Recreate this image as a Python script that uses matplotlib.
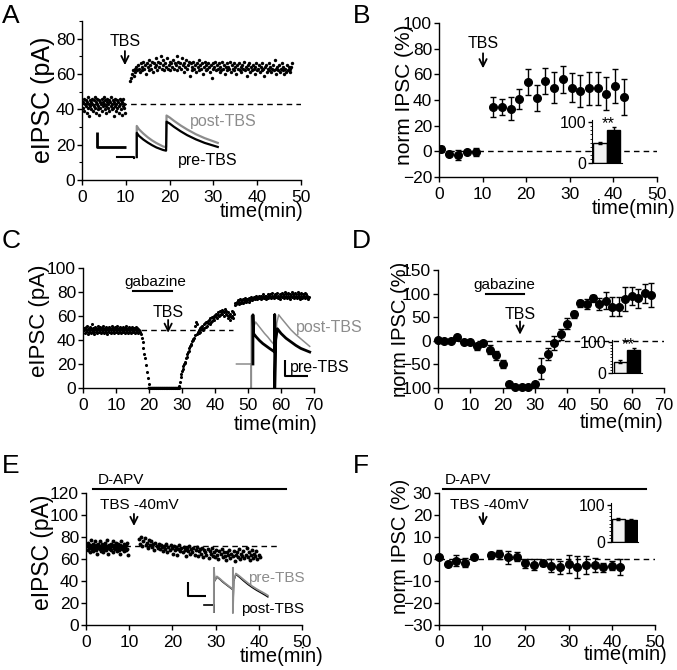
import numpy as np
import matplotlib
matplotlib.use('Agg')
import matplotlib.pyplot as plt

plt.rcParams['font.family'] = ['Liberation Sans', 'DejaVu Sans']

W, H = 677, 670

# ---------------- Panel A data ----------------
A_pre_t = np.linspace(0.2, 9.8, 80)
A_pre_v = [44, 41, 46, 39, 43, 45, 42, 38, 44, 47,
           41, 43, 36, 45, 42, 44, 40, 46, 43, 39,
           45, 42, 47, 41, 44, 38, 43, 46, 40, 42,
           45, 37, 44, 41, 43, 46, 39, 44, 42, 47,
           43, 40, 45, 42, 38, 44, 46, 41, 43, 45,
           39, 44, 42, 47, 40, 43, 45, 41, 36, 44,
           42, 46, 39, 43, 45, 41, 44, 38, 42, 46,
           43, 40, 45, 37, 44, 42, 46, 41, 43, 38]
A_post_t = np.linspace(11.0, 48.0, 186)
A_post_v = [56, 58, 60, 62, 59, 63, 61, 64, 62, 65,
            63, 61, 66, 64, 62, 67, 63, 65, 60, 66,
            64, 68, 62, 65, 63, 67, 61, 66, 64, 69,
            65, 62, 67, 64, 66, 70, 63, 65, 68, 62,
            66, 64, 69, 63, 65, 67, 62, 66, 64, 68,
            63, 66, 65, 70, 62, 67, 64, 66, 63, 69,
            65, 61, 66, 64, 68, 63, 65, 67, 59, 66,
            64, 62, 67, 63, 65, 61, 66, 64, 68, 62,
            65, 63, 66, 60, 64, 67, 62, 65, 63, 66,
            64, 61, 65, 58, 66, 63, 64, 67, 62, 65,
            63, 66, 61, 64, 62, 67, 63, 65, 60, 64,
            66, 62, 64, 63, 67, 61, 65, 63, 66, 62,
            64, 60, 65, 63, 66, 62, 64, 61, 65, 63,
            67, 62, 64, 59, 65, 63, 66, 61, 64, 62,
            65, 63, 60, 64, 66, 62, 63, 65, 61, 64,
            62, 66, 63, 59, 64, 65, 61, 63, 66, 62,
            64, 61, 63, 65, 62, 68, 63, 60, 64, 62,
            65, 61, 63, 66, 62, 64, 60, 63, 61, 65,
            62, 64, 63, 61, 64, 66]
A_baseline = 43
# example traces (inset of A, drawn in A's axes units)
A_tr_base_t = [8.0, 11.9, 11.9]
A_tr_base_y = [13.0, 13.0, 12.2]
A_tr_t = [12.5, 12.5, 13.0, 14.0, 15.0, 16.0, 17.0, 18.5, 19.2, 19.3, 20.0, 21.0, 22.5, 24.0, 26.0, 28.0, 31.0]
A_tr_pre = [13.0, 26.7, 25.0, 22.9, 21.2, 19.7, 18.4, 17.0, 16.6, 33.0, 32.0, 30.1, 27.6, 25.4, 23.0, 21.0, 18.7]
A_tr_post = [13.0, 30.6, 28.7, 26.3, 24.2, 22.4, 20.9, 19.0, 18.6, 36.5, 35.4, 33.5, 30.9, 28.6, 25.9, 23.7, 21.0]

# ---------------- Panel B data ----------------
B_t = [0.4, 2.4, 4.4, 6.4, 8.4, 12.4, 14.4, 16.4, 18.4, 20.4, 22.4, 24.4, 26.4,
       28.4, 30.4, 32.4, 34.4, 36.4, 38.4, 40.4, 42.4]
B_v = [1.8, -1.8, -3.1, -0.5, -0.5, 34.5, 34.5, 33.2, 40.8, 54.0, 41.8, 55.0, 49.6,
       56.0, 49.6, 47.3, 49.0, 49.0, 45.0, 51.0, 42.3]
B_e = [2.0, 2.0, 4.0, 1.0, 3.0, 7.8, 6.5, 9.0, 8.0, 10.0, 10.0, 10.0, 12.0,
       10.6, 11.4, 12.5, 13.0, 12.6, 13.0, 13.0, 13.7]
B_bar = [49.5, 81.7]
B_bar_e = [3.0, 6.0]

# ---------------- Panel C data ----------------
C_base_t = np.linspace(0.3, 17.0, 112)
C_base_v = [48, 50, 46, 49, 51, 47, 48, 52, 45, 49,
            50, 47, 48, 51, 46, 49, 48, 53, 47, 50,
            48, 45, 49, 51, 47, 50, 48, 46, 52, 49,
            47, 50, 48, 51, 46, 49, 50, 47, 48, 52,
            49, 46, 50, 48, 51, 47, 49, 45, 50, 48,
            51, 47, 49, 50, 46, 48, 52, 49, 47, 50,
            48, 46, 51, 49, 47, 50, 48, 52, 46, 49,
            50, 47, 48, 51, 49, 46, 50, 48, 47, 51,
            49, 48, 46, 50, 47, 52, 48, 49, 46, 50,
            48, 51, 47, 49, 50, 46, 48, 51, 47, 49,
            50, 48, 46, 49, 51, 47, 48, 50, 49, 46,
            48, 47]
C_drop_t = [17.3, 17.6, 17.9, 18.1, 18.3, 18.5, 18.7, 19.0, 19.3, 19.6, 19.9]
C_drop_v = [47, 45, 42, 38, 33, 28, 25, 19, 13, 8, 3]
C_zero_t = np.linspace(20.0, 29.0, 46)
C_zero_v = [0.0] * 46
C_rec_t = np.linspace(29.2, 45.8, 84)
C_rec_v = [2, 5, 9, 12, 14, 16, 18, 20, 22, 21,
           25, 26, 28, 30, 31, 33, 35, 36, 37, 39,
           40, 41, 42, 44, 52, 55, 45, 53, 47, 46,
           48, 50, 47, 51, 49, 52, 48, 53, 50, 54,
           51, 55, 52, 56, 54, 57, 53, 58, 55, 59,
           56, 58, 60, 57, 61, 59, 62, 58, 61, 63,
           60, 64, 61, 63, 65, 62, 64, 60, 63, 66,
           62, 64, 61, 58, 63, 60, 57, 62, 59, 64,
           60, 63, 58, 62]
C_late_t = np.linspace(46.0, 68.4, 113)
C_late_v = [69, 71, 70, 72, 71, 73, 70, 72, 74, 71,
            72, 73, 71, 74, 72, 73, 75, 72, 74, 73,
            74, 72, 75, 73, 74, 76, 73, 75, 74, 76,
            74, 75, 77, 74, 76, 75, 77, 75, 76, 74,
            77, 75, 76, 78, 75, 77, 76, 74, 77, 76,
            78, 75, 77, 76, 78, 75, 77, 79, 76, 77,
            75, 78, 76, 77, 79, 75, 77, 76, 78, 74,
            77, 79, 76, 78, 75, 77, 80, 76, 78, 75,
            77, 79, 76, 78, 74, 77, 80, 76, 78, 75,
            77, 79, 76, 78, 75, 77, 80, 76, 78, 74,
            77, 79, 75, 78, 76, 77, 79, 75, 78, 76,
            77, 74, 76]
C_baseline = 48
C_tr_post_t = [46.5, 51.0, 51.0, 51.0, 51.6, 52.3, 53.0, 54.0, 55.0, 56.0, 57.0, 58.1, 58.1, 58.1,
               58.7, 59.3, 60.0, 61.5, 63.0, 64.5, 66.0, 67.5, 68.7]
C_tr_post_y = [20, 20, 0, 60, 50, 55, 52.5, 49, 45.5, 42.5, 39, 35.6, 61, 0,
               54, 61, 58.5, 53.5, 48.5, 44.5, 41, 37.5, 34.7]
C_tr_pre_t = [51.5, 51.5, 51.7, 52.5, 53.5, 54.5, 55.5, 56.5, 58.1, 58.1, 58.1, 58.4, 58.9,
              60.0, 61.5, 63.0, 64.5, 66.0, 68.7]
C_tr_pre_y = [20, 61, 45.3, 42.5, 39.5, 37, 35, 33, 30, 61, 0, 40, 49.4,
              45.5, 41.5, 38.5, 35.5, 33, 30]

# ---------------- Panel D data ----------------
D_t = [0, 2, 4, 6, 8, 10, 12, 14, 16, 18, 20, 22, 24, 26, 28, 30, 32, 34, 36, 38,
       40, 42, 44, 46, 48, 50, 52, 54, 56, 58, 60, 62, 64, 66]
D_v = [0.7, 0, 0, 9, -2, -3.5, -12, -5, -19, -31, -49, -91.5, -98.6, -98.6, -98.6,
       -91.5, -59, -28, -5, 14, 36, 56, 79.6, 78, 90, 78, 84.5, 72.5, 72.5, 88, 95,
       90, 100.7, 97]
D_e = [1, 1, 1, 2, 2, 2, 8, 2, 10, 10, 8, 4, 1, 1, 1, 4, 22, 12, 15, 12,
       12, 7, 7, 10, 8, 12, 18, 20, 20, 25, 20, 20, 20, 25]
D_bar = [37, 74]
D_bar_e = [4, 5]

# ---------------- Panel E data ----------------
E_pre_t = np.linspace(0.3, 9.7, 70)
E_pre_v = [72, 68, 75, 70, 66, 73, 71, 77, 69, 74,
           67, 72, 70, 76, 68, 73, 71, 65, 74, 70,
           72, 69, 76, 67, 71, 74, 70, 66, 73, 69,
           75, 71, 68, 72, 77, 70, 65, 73, 69, 71,
           74, 68, 72, 76, 66, 70, 73, 69, 75, 71,
           67, 72, 70, 74, 68, 73, 65, 71, 76, 69,
           72, 70, 67, 74, 71, 68, 73, 75, 69, 64]
E_post_t = np.linspace(12.3, 40.2, 112)
E_post_v = [78, 74, 80, 72, 76, 79, 73, 75, 70, 77,
            73, 76, 71, 74, 68, 75, 72, 70, 74, 69,
            73, 71, 67, 72, 69, 74, 66, 71, 68, 73,
            70, 65, 72, 68, 71, 64, 69, 73, 67, 70,
            66, 71, 68, 63, 70, 67, 72, 65, 69, 66,
            70, 64, 68, 71, 63, 67, 69, 65, 70, 62,
            68, 66, 64, 69, 61, 67, 65, 70, 63, 66,
            62, 68, 64, 60, 67, 65, 69, 62, 66, 63,
            59, 66, 64, 68, 61, 65, 63, 67, 58, 64,
            66, 62, 69, 60, 65, 63, 67, 61, 64, 70,
            62, 66, 59, 64, 68, 61, 65, 63, 67, 60,
            64, 62]
E_baseline = 72
E_tr_base_t = [27.3, 29.6, 29.6]
E_tr_base_y = [18, 18, 11.8]
E_tr_t = [29.6, 29.6, 29.8, 30.3, 31.0, 31.5, 32.0, 32.5, 33.0, 33.5, 34.0, 34.0, 34.0,
          34.2, 34.7, 35.5, 36.5, 37.5, 38.5, 39.5, 40.5, 41.5, 42.1]
E_tr_post = [11.8, 52, 40, 43.6, 41.5, 39.6, 38.0, 36.5, 35.0, 33.5, 32.0, 52, 11,
             40, 46, 43.5, 40, 36.8, 34, 31.5, 29.3, 27, 25.5]
E_tr_pre = [11.8, 52, 40.5, 44.2, 42.0, 40.2, 38.6, 37.0, 35.5, 34.0, 32.5, 52, 11,
            40.5, 46.8, 44.5, 41.2, 38.0, 35.2, 32.7, 30.5, 28.3, 26.8]

# ---------------- Panel F data ----------------
F_t = [0, 2, 4, 6, 8, 12, 14, 16, 18, 20, 22, 24, 26, 28, 30, 32, 34, 36, 38, 40, 42]
F_v = [1.1, -2.4, -0.8, -1.6, 0.7, 1.9, 2.2, 0.7, 1.1, -1.9, -2.7, -1.9, -3.1, -3.7,
       -2.4, -3.7, -2.7, -2.7, -3.7, -3.1, -3.7]
F_e = [0.8, 0.8, 2.5, 2.0, 0.8, 1.5, 2.0, 3.0, 2.0, 2.0, 2.5, 1.5, 3.0, 3.0,
       4.0, 5.0, 4.0, 3.0, 2.0, 2.0, 3.5]
F_bar = [62, 60]
F_bar_e = [2, 2]

bar_labels = ['pre', 'post']

# ======================================================
fig = plt.figure(figsize=(W / 100, H / 100), dpi=100)
fig.patch.set_facecolor('white')


def add_ax(l, t, r, b):
    return fig.add_axes([l / W, 1 - b / H, (r - l) / W, (b - t) / H])


def px(x, y):
    return x / W, 1 - y / H


def style(ax, xt, yt, xl, yl):
    for s in ['top', 'right']:
        ax.spines[s].set_visible(False)
    for s in ['left', 'bottom']:
        ax.spines[s].set_linewidth(1.0)
    ax.set_xlim(*xl)
    ax.set_ylim(*yl)
    ax.set_xticks(xt)
    ax.set_yticks(yt)
    ax.tick_params(axis='both', direction='out', length=3.5, width=1, labelsize=12.5)
    ax.tick_params(axis='y', pad=1.5)
    ax.tick_params(axis='x', pad=4)
    ax.patch.set_alpha(0)


DASH = (0, (4, 3))
GRAY = '#8c8c8c'


def arrow(ax, x, y0, y1):
    ax.annotate('', xy=(x, y1), xytext=(x, y0),
                arrowprops=dict(arrowstyle='->', lw=1.3, color='k', mutation_scale=13,
                                shrinkA=0, shrinkB=0))


def inset_bars(l, t, r, b, vals, errs):
    ia = add_ax(l, t, r, b)
    ia.patch.set_alpha(0)
    for s in ['top', 'right']:
        ia.spines[s].set_visible(False)
    ia.bar(np.arange(len(vals)), vals, width=1.0, color=['#f2f2f2', 'black'],
           edgecolor='black', linewidth=1.0, yerr=errs,
           error_kw=dict(ecolor='black', elinewidth=1, capsize=1.5, capthick=1))
    ia.set_ylim(0, 106)
    ia.set_xticks([])
    ia.set_yticks([0, 100])
    ia.set_yticks(np.arange(0, 101, 10), minor=True)
    ia.tick_params(axis='y', which='major', length=3, width=1, labelsize=11.5, pad=1)
    ia.tick_params(axis='y', which='minor', length=1.5, width=0.6)
    return ia


# ---------------- A ----------------
axA = add_ax(82, 21, 301, 180)
style(axA, range(0, 51, 10), range(0, 81, 20), (0, 50), (0, 90))
axA.set_yticks(range(10, 91, 20), minor=True)
axA.tick_params(axis='y', which='minor', length=2, width=0.8)
axA.plot([0, 50], [A_baseline, A_baseline], color='k', lw=1, ls=DASH)
axA.scatter(A_pre_t, A_pre_v, s=6, color='k', lw=0)
axA.scatter(A_post_t, A_post_v, s=6, color='k', lw=0)
axA.text(9.8, 78.5, 'TBS', fontsize=11.5, ha='center', va='center')
arrow(axA, 9.8, 73, 65)
axA.plot([3.42, 3.42, 10.0], [27.2, 18.7, 18.7], color='k', lw=2, solid_capstyle='butt')
axA.plot(A_tr_base_t, A_tr_base_y, color='k', lw=1.5)
axA.plot(A_tr_t, A_tr_post, color=GRAY, lw=1.6)
axA.plot(A_tr_t, A_tr_pre, color='k', lw=1.6)
axA.text(24.7, 33, 'post-TBS', color=GRAY, fontsize=11.5, ha='left', va='center')
axA.text(21.9, 11.3, 'pre-TBS', color='k', fontsize=11.5, ha='left', va='center')

# ---------------- B ----------------
axB = add_ax(439, 23, 657, 177)
style(axB, range(0, 51, 10), range(-20, 101, 20), (0, 50), (-20, 100))
axB.plot([0, 50], [0, 0], color='k', lw=1, ls=DASH)
axB.errorbar(B_t, B_v, yerr=B_e, fmt='o', color='k', ms=5.5, capsize=2.5,
             elinewidth=1, capthick=1)
axB.text(10.1, 84.2, 'TBS', fontsize=11.5, ha='center', va='center')
arrow(axB, 10.1, 76.4, 64.7)
inset_bars(592, 119.6, 621.7, 163.3, B_bar, B_bar_e)
fig.text(*px(608, 124), '**', fontsize=12, ha='center', va='center')

# ---------------- C ----------------
axC = add_ax(83, 268, 314, 388)
style(axC, range(0, 71, 10), range(0, 101, 20), (0, 70), (0, 100))
axC.plot([17.5, 45.5], [C_baseline, C_baseline], color='k', lw=1, ls=DASH)
for tt, vv in [(C_base_t, C_base_v), (C_drop_t, C_drop_v), (C_zero_t, C_zero_v),
               (C_rec_t, C_rec_v), (C_late_t, C_late_v)]:
    axC.scatter(tt, vv, s=5, color='k', lw=0, clip_on=False)
axC.plot([20, 29], [0, 0], color='k', lw=2.5)
axC.text(21.8, 88, 'gabazine', fontsize=11, ha='center', va='center')
axC.plot([15, 27], [81, 81], color='k', lw=1.5)
axC.text(25.8, 63, 'TBS', fontsize=11.5, ha='center', va='center')
arrow(axC, 25.8, 56.7, 46)
axC.plot(C_tr_post_t, C_tr_post_y, color=GRAY, lw=1.1)
axC.plot(C_tr_pre_t, C_tr_pre_y, color='k', lw=2.0)
axC.plot([61.1, 61.1, 68.2], [23, 9.7, 9.7], color='k', lw=1.5, solid_capstyle='butt')
axC.text(64.5, 50.8, 'post-TBS', color=GRAY, fontsize=11.5, ha='left', va='center')
axC.text(62.7, 16.7, 'pre-TBS', color='k', fontsize=11.5, ha='left', va='center')

# ---------------- D ----------------
axD = add_ax(438, 270, 664, 388)
style(axD, range(0, 71, 10), range(-100, 151, 50), (0, 70), (-100, 150))
axD.plot([0, 70], [0, 0], color='k', lw=1, ls=DASH)
axD.errorbar(D_t, D_v, yerr=D_e, fmt='o', color='k', ms=5.5, capsize=2.5,
             elinewidth=1, capthick=1, clip_on=False)
axD.text(20.4, 118.6, 'gabazine', fontsize=11, ha='center', va='center')
axD.plot([14.9, 26.6], [99.6, 99.6], color='k', lw=1.5)
axD.text(25.4, 55, 'TBS', fontsize=11.5, ha='center', va='center')
arrow(axD, 25.4, 41, 13)
inset_bars(612.3, 339.8, 641.7, 373.3, D_bar, D_bar_e)
fig.text(*px(628, 345), '**', fontsize=12, ha='center', va='center')

# ---------------- E ----------------
axE = add_ax(86, 493, 302, 625)
style(axE, range(0, 51, 10), range(0, 121, 20), (0, 50), (0, 120))
axE.plot([0, 44.4], [E_baseline, E_baseline], color='k', lw=1, ls=DASH)
axE.scatter(E_pre_t, E_pre_v, s=8, color='k', lw=0)
axE.scatter(E_post_t, E_post_v, s=8, color='k', lw=0)
axE.plot([1.6, 46.3], [123.6, 123.6], color='k', lw=1.5, clip_on=False)
axE.text(2.8, 132, 'D-APV', fontsize=11, ha='left', va='center')
axE.text(3.2, 109, 'TBS -40mV', fontsize=11, ha='left', va='center')
arrow(axE, 11.1, 101, 90)
axE.plot([23.6, 23.6, 27.8], [39, 26.4, 26.4], color='k', lw=1.5, solid_capstyle='butt')
axE.plot(E_tr_base_t, E_tr_base_y, color='k', lw=1.2)
axE.plot(E_tr_t, E_tr_post, color='k', lw=1.0)
axE.plot(E_tr_t, E_tr_pre, color=GRAY, lw=1.3)
axE.text(37.5, 42.7, 'pre-TBS', color=GRAY, fontsize=11, ha='left', va='center')
axE.text(35.9, 14.5, 'post-TBS', color='k', fontsize=11, ha='left', va='center')

# ---------------- F ----------------
axF = add_ax(439, 493, 655, 625)
style(axF, range(0, 51, 10), range(-30, 31, 10), (0, 50), (-30, 30))
axF.plot([0, 50], [0, 0], color='k', lw=1, ls=DASH)
axF.errorbar(F_t, F_v, yerr=F_e, fmt='o', color='k', ms=5.5, capsize=2.5,
             elinewidth=1, capthick=1, clip_on=False)
axF.plot([0.9, 47.9], [31.8, 31.8], color='k', lw=1.5, clip_on=False)
axF.text(1.4, 35.9, 'D-APV', fontsize=11, ha='left', va='center')
axF.text(2.5, 24.5, 'TBS -40mV', fontsize=11, ha='left', va='center')
arrow(axF, 10.2, 20.9, 15)
inset_bars(611, 502.8, 638, 542, F_bar, F_bar_e)

# ---------------- labels ----------------
ylabs = [(43, 100, 'eIPSC (pA)', 18), (405, 95, 'norm IPSC (%)', 15),
         (40, 321, 'eIPSC (pA)', 16), (401, 329, 'norm IPSC (%)', 14.5),
         (42, 552, 'eIPSC (pA)', 16.5), (401, 546, 'norm IPSC (%)', 14.5)]
for x, y, s, fs in ylabs:
    fig.text(*px(x, y), s, rotation=90, fontsize=fs, ha='center', va='center')

xlabs = [(303, 212), (675, 209), (317, 424), (663, 423), (323, 656), (667, 654)]
for x, y in xlabs:
    fig.text(*px(x, y), 'time(min)', fontsize=14.5, ha='right', va='center')

letters = [(2, 23, 'A'), (353, 23, 'B'), (2, 248, 'C'), (352, 248, 'D'),
           (2, 473, 'E'), (353, 473, 'F')]
for x, y, s in letters:
    fig.text(*px(x, y), s, fontsize=19, ha='left', va='baseline')

fig.savefig('out.png', dpi=100, facecolor='white')
